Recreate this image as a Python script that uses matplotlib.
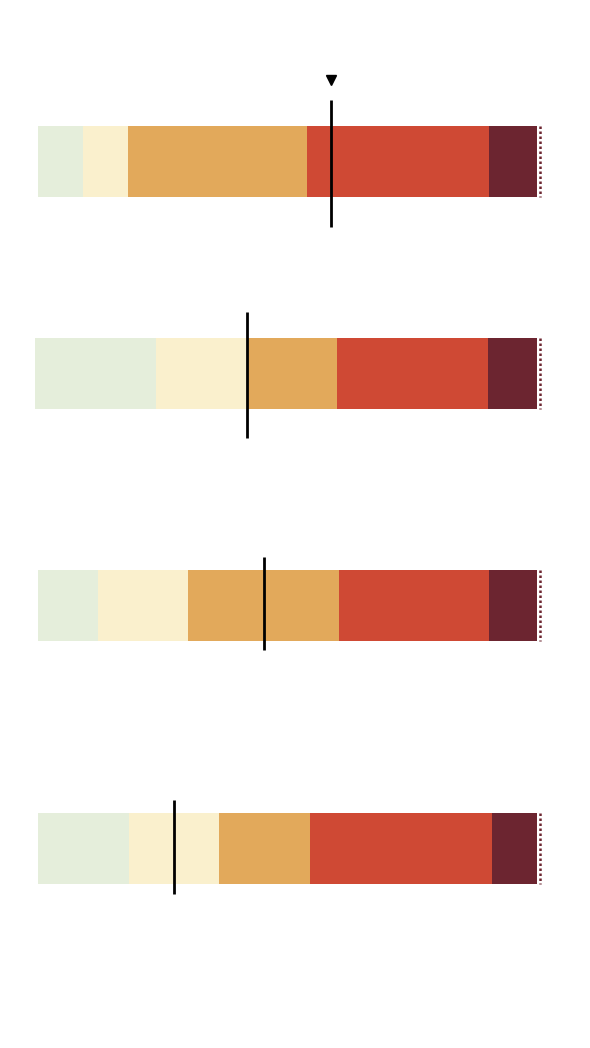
import matplotlib
matplotlib.use("Agg")
import matplotlib.pyplot as plt
import numpy as np

# Data (share of each category, percent)
categories = ["Cat 1", "Cat 2", "Cat 3", "Cat 4", "Cat 5"]
row1 = [9, 9, 36, 36.3, 9.7]
row2 = [24.2, 18.3, 18, 30.3, 9.8]
row3 = [12.1, 18, 30.2, 30.1, 9.6]
row4 = [18.3, 18, 18.3, 36.3, 9.1]
rows = [row1, row2, row3, row4]
row_starts = [0, -0.6, 0, 0]
markers = [58.7, 41.9, 45.3, 27.2]
triangle_row = 0

colors = ["#e5eedb", "#faf0cd", "#e2a95b", "#cf4934", "#6c2530"]

W, H = 590, 1048
fig = plt.figure(figsize=(W / 100, H / 100), dpi=100)
ax = fig.add_axes([0, 0, 1, 1])
ax.axis("off")

# Layout (pixel units)
px_per_unit = 4.99
x0_px = 38
ax.set_xlim(-x0_px / px_per_unit, (W - x0_px) / px_per_unit)
ax.set_ylim(H, 0)

centers = [161, 373.5, 605, 848]
bar_h = 71
line_spans = [(100, 227), (312, 438), (557, 650), (800, 894)]

for i, vals in enumerate(rows):
    lefts = row_starts[i] + np.concatenate([[0], np.cumsum(vals)[:-1]])
    ax.barh(centers[i], vals, left=lefts, height=bar_h, color=colors,
            edgecolor="none", linewidth=0)
    end = lefts[-1] + vals[-1]
    ax.vlines(end + 0.6, centers[i] - bar_h / 2, centers[i] + bar_h / 2,
              colors=colors[-1], linestyles=(0, (1, 1)), linewidth=1.8)
    ax.vlines(markers[i], line_spans[i][0], line_spans[i][1],
              colors="black", linewidth=2)

ax.plot(markers[triangle_row], 80, marker="v", markersize=7.5, color="black",
        linestyle="none")

fig.savefig("out.png", dpi=100)
